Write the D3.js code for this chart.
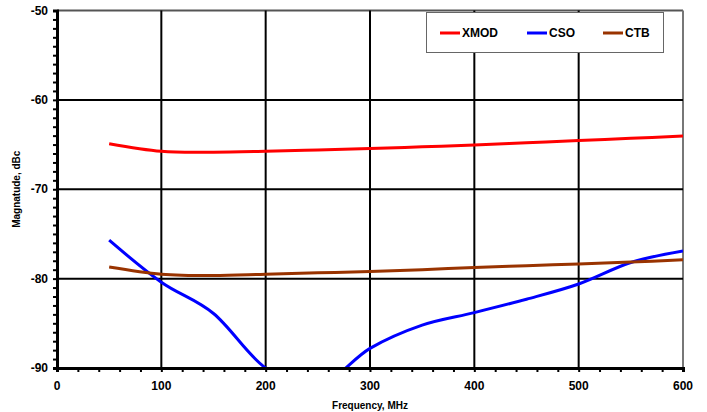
<!DOCTYPE html>
<html>
<head>
	<title> distortion vs frequency </title>
	<script src="https://d3js.org/d3.v7.min.js"></script>
	<style>
		body { margin: 0; background: #fff; }
		text { font-family: "Liberation Sans", Arial, sans-serif; font-weight: bold; fill: #000; }
	</style>
</head>
<body>
	<svg width="707" height="412"></svg>
	<script type="text/javascript">
		let freqs = [50, 100, 150, 200, 250, 300, 350, 400, 450, 500, 550, 600];
		let xmod = [-64.9, -65.75, -65.85, -65.75, -65.6, -65.45, -65.25, -65.05, -64.8, -64.55, -64.3, -64.05];
		let cso = [-75.7, -80.4, -83.9, -90.0, -92.0, -87.8, -85.2, -83.8, -82.3, -80.6, -78.2, -76.9];
		let ctb = [-78.7, -79.5, -79.65, -79.5, -79.35, -79.2, -79.0, -78.75, -78.55, -78.35, -78.15, -77.9];
		let seriesNames = ["XMOD", "CSO", "CTB"];
		let seriesColors = ["#ff0000", "#0000ff", "#993300"];
		let xTicks = [0, 100, 200, 300, 400, 500, 600];
		let yTicks = [-90, -80, -70, -60, -50];

		let svg = d3.select("svg");
		let pLeft = 57, pRight = 683, pTop = 10.5, pBottom = 368;

		let x = d3.scaleLinear().domain([0, 600]).range([pLeft, pRight]);
		let y = d3.scaleLinear().domain([-90, -50]).range([pBottom, pTop]);

		// plot frame (top and right in grey)
		svg.append("line").attr("x1", pLeft).attr("x2", pRight).attr("y1", pTop).attr("y2", pTop)
			.attr("stroke", "#555").attr("stroke-width", 2);
		svg.append("line").attr("x1", pRight).attr("x2", pRight).attr("y1", pTop).attr("y2", pBottom)
			.attr("stroke", "#777").attr("stroke-width", 2);

		// grid lines
		svg.append("g").selectAll("line").data(xTicks.slice(1, -1)).enter().append("line")
			.attr("x1", d => x(d)).attr("x2", d => x(d)).attr("y1", pTop).attr("y2", pBottom)
			.attr("stroke", "#000").attr("stroke-width", 2);
		svg.append("g").selectAll("line").data(yTicks.slice(1, -1)).enter().append("line")
			.attr("x1", pLeft).attr("x2", pRight).attr("y1", d => y(d)).attr("y2", d => y(d))
			.attr("stroke", "#000").attr("stroke-width", 2);

		// data lines, clipped to plot area
		svg.append("clipPath").attr("id", "clip").append("rect")
			.attr("x", pLeft).attr("y", pTop).attr("width", pRight - pLeft).attr("height", pBottom - pTop);
		let line = d3.line().x(d => x(d[0])).y(d => y(d[1])).curve(d3.curveCardinal.tension(0));
		let allSeries = [xmod, cso, ctb];
		let g = svg.append("g").attr("clip-path", "url(#clip)");
		allSeries.forEach(function(vals, i) {
			g.append("path").datum(freqs.map((f, j) => [f, vals[j]]))
				.attr("fill", "none").attr("stroke", seriesColors[i]).attr("stroke-width", 3)
				.attr("d", line);
		});

		// axes
		let xAxis = svg.append("g").attr("transform", "translate(0," + pBottom + ")");
		xAxis.call(d3.axisBottom(x).tickValues(d3.range(0, 601, 20)).tickSize(4).tickFormat(""));
		xAxis.select(".domain").attr("stroke-width", 3);
		xAxis.selectAll(".tick line").attr("stroke-width", 2);
		xAxis.selectAll(".lbl").data(xTicks).enter().append("text").attr("class", "lbl")
			.attr("x", d => x(d)).attr("y", 22).attr("text-anchor", "middle")
			.attr("font-size", 12).attr("fill", "#000").text(d => d);

		let yAxis = svg.append("g").attr("transform", "translate(" + pLeft + ",0)");
		yAxis.call(d3.axisLeft(y).tickValues(d3.range(-90, -49, 1)).tickSize(4).tickFormat(""));
		yAxis.select(".domain").attr("stroke-width", 3);
		yAxis.selectAll(".tick line").attr("stroke-width", 2);
		yAxis.selectAll(".lbl").data(yTicks).enter().append("text").attr("class", "lbl")
			.attr("x", -9).attr("y", d => y(d)).attr("dy", "0.35em").attr("text-anchor", "end")
			.attr("font-size", 12).attr("fill", "#000").text(d => d);

		// axis titles
		svg.append("text").attr("x", (pLeft + pRight) / 2).attr("y", 409).attr("text-anchor", "middle")
			.attr("font-size", 10).text("Frequency, MHz");
		svg.append("text").attr("transform", "translate(20," + (pTop + pBottom) / 2 + ") rotate(-90)")
			.attr("text-anchor", "middle").attr("font-size", 10).text("Magnatude, dBc");

		// legend
		let legend = svg.append("g");
		legend.append("rect").attr("x", 426.5).attr("y", 12.5).attr("width", 237).attr("height", 40)
			.attr("fill", "#fff").attr("stroke", "#666").attr("stroke-width", 1);
		let legendX = [440, 527, 603];
		seriesNames.forEach(function(name, i) {
			legend.append("line").attr("x1", legendX[i]).attr("x2", legendX[i] + 20)
				.attr("y1", 33).attr("y2", 33).attr("stroke", seriesColors[i]).attr("stroke-width", 3);
			legend.append("text").attr("x", legendX[i] + 22).attr("y", 33).attr("dy", "0.35em")
				.attr("font-size", 12).text(name);
		});
	</script>
</body>
</html>
